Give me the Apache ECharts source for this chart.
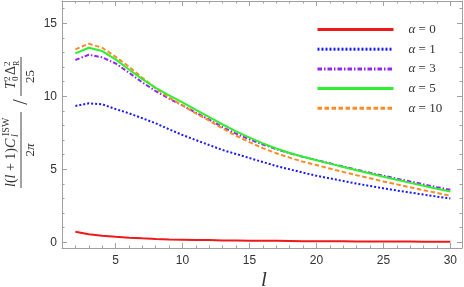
<!DOCTYPE html>
<html>
<head>
<meta charset="utf-8">
<script src="https://cdn.jsdelivr.net/npm/echarts@6/dist/echarts.min.js"></script>
<style>
html,body{margin:0;padding:0;background:#fff;}
#chart{width:464px;height:287px;}
</style>
</head>
<body>
<div id="chart"></div>
<script>
// ---- data ----
const ells = [2,3,4,5,6,7,8,9,10,11,12,13,14,15,16,17,18,19,20,21,22,23,24,25,26,27,28,29,30];
const alpha0 = [0.73,0.55,0.45,0.38,0.32,0.27,0.23,0.20,0.18,0.16,0.15,0.13,0.12,0.11,0.10,0.10,0.09,0.08,0.08,0.07,0.07,0.06,0.06,0.05,0.05,0.05,0.04,0.04,0.04];
const alpha1 = [9.34,9.52,9.45,9.13,8.84,8.50,8.15,7.74,7.35,7.00,6.66,6.32,6.05,5.77,5.50,5.23,5.00,4.77,4.56,4.38,4.20,4.02,3.86,3.70,3.55,3.41,3.27,3.13,3.00];
const alpha3 = [12.49,12.85,12.67,12.26,11.62,10.95,10.36,9.84,9.38,8.88,8.40,7.88,7.44,7.05,6.70,6.38,6.10,5.85,5.64,5.41,5.19,4.97,4.76,4.56,4.36,4.17,3.97,3.78,3.60];
const alpha5 = [12.94,13.33,13.10,12.53,11.84,11.18,10.58,10.07,9.58,9.07,8.57,8.07,7.60,7.17,6.78,6.43,6.12,5.86,5.62,5.39,5.16,4.93,4.71,4.49,4.28,4.07,3.87,3.67,3.48];
const alpha10 = [13.22,13.60,13.33,12.71,12.03,11.27,10.55,9.92,9.38,8.83,8.33,7.80,7.30,6.86,6.45,6.10,5.80,5.52,5.29,5.05,4.82,4.60,4.39,4.17,3.97,3.77,3.57,3.38,3.19];
const seriesNames = ['α = 0','α = 1','α = 3','α = 5','α = 10'];
const xMajorTicks = [5,10,15,20,25,30];
const xMinorTicks = [2,3,4,5,6,7,8,9,10,11,12,13,14,15,16,17,18,19,20,21,22,23,24,25,26,27,28,29,30];
const yMajorTicks = [0,5,10,15];
const yMinorTicks = [0,1,2,3,4,5,6,7,8,9,10,11,12,13,14,15,16];

// ---- chart ----
const chart = echarts.init(document.getElementById('chart'), null, {renderer:'canvas'});
const frameColor = '#a0a0a0';
const labelColor = '#333';
const serif = '"Liberation Serif", "DejaVu Serif", serif';
const XMIN = 1.0, XMAX = 30.87, YMIN = -0.39, YMAX = 16.53;

function xAx(pos, ticks, len, labels, showLine){
  return {
    type:'value', position:pos, min:XMIN, max:XMAX,
    axisLine:{show:showLine, onZero:false, lineStyle:{color:frameColor, width:1}},
    axisTick:{show:true, inside:true, length:len, customValues:ticks, lineStyle:{color:frameColor, width:1}},
    axisLabel:labels ? {show:true, customValues:ticks, color:labelColor, fontFamily:'"Liberation Sans", Arial, sans-serif', fontSize:12, margin:7} : {show:false},
    splitLine:{show:false}, minorTick:{show:false}
  };
}
function yAx(pos, ticks, len, labels, showLine){
  return {
    type:'value', position:pos, min:YMIN, max:YMAX,
    axisLine:{show:showLine, onZero:false, lineStyle:{color:frameColor, width:1}},
    axisTick:{show:true, inside:true, length:len, customValues:ticks, lineStyle:{color:frameColor, width:1}},
    axisLabel:labels ? {show:true, customValues:ticks, color:labelColor, fontFamily:'"Liberation Sans", Arial, sans-serif', fontSize:12, margin:5} : {show:false},
    splitLine:{show:false}, minorTick:{show:false}
  };
}

function mk(vals){ return ells.map((l,i)=>[l, vals[i]]); }

const colors = ['#f01818','#1a1aff','#9326f0','#2ef02e','#ff8a26'];
const lineTypes = ['solid',[2,2],[4.5,2,1.5,2],'solid',[4.5,2.5]];
const datas = [alpha0, alpha1, alpha3, alpha5, alpha10];

const series = datas.map((d,i)=>({
  name: seriesNames[i], type:'line', data: mk(d), xAxisIndex:0, yAxisIndex:0,
  symbol:'none', showSymbol:false, smooth:false,
  lineStyle:{color:colors[i], width:2, type:lineTypes[i]},
  itemStyle:{color:colors[i]},
  z: [5,3,4,6,5][i],
  animation:false
}));

// y-axis label built as rotated math expression
const T = (x,y,text,font,align,valign)=>({type:'text', x:x, y:y, style:{text:text, font:font, fill:labelColor, textAlign:align||'left', textVerticalAlign:valign||'bottom'}});
const f14 = '14px ' + serif, f14i = 'italic 14px ' + serif, f10 = '10px ' + serif, f10i = 'italic 10px ' + serif, f13 = '13px ' + serif;
const yLabel = {
  type:'group', x:21, y:188, rotation:Math.PI/2, silent:true,
  children:[
    {type:'line', shape:{x1:0,y1:0,x2:76,y2:0}, style:{stroke:'#444', lineWidth:1}},
    {type:'text', x:1, y:-3, style:{text:'{i|l}({i|l} + 1){i|C}', font:f14, fill:labelColor, textAlign:'left', textVerticalAlign:'bottom', rich:{i:{fontStyle:'italic', fontSize:14, fontFamily:serif}}}},
    T(51,-0.5,'l',f10i),
    T(52,-10,'ISW',f10),
    {type:'text', x:38, y:3, style:{text:'2{i|π}', font:f13, fill:labelColor, textAlign:'center', textVerticalAlign:'top', rich:{i:{fontStyle:'italic', fontSize:13, fontFamily:serif}}}},
    T(86,1,'/','20px ' + serif,'center','middle'),
    {type:'line', shape:{x1:92,y1:0,x2:131,y2:0}, style:{stroke:'#444', lineWidth:1}},
    T(99,-3,'T',f14i),
    T(107,-0.5,'0','9px ' + serif),
    T(107,-9,'2','9px ' + serif),
    T(113,-3,'Δ',f14),
    T(122,-0.5,'R','8px ' + serif),
    T(122,-9,'2','9px ' + serif),
    T(111.5,3,'25',f13,'center','top')
  ]
};
const xLabel = {type:'text', x:264, y:280, silent:true, style:{text:'l', font:'italic 21px ' + serif, fill:labelColor, textAlign:'center', textVerticalAlign:'middle'}};

chart.setOption({
  animation:false,
  backgroundColor:'#fff',
  grid:{left:62, top:1, width:400, height:247, containLabel:false},
  xAxis:[
    xAx('bottom', xMajorTicks, 5, true, true),
    xAx('bottom', xMinorTicks, 2.5, false, false),
    xAx('top', xMajorTicks, 5, false, true),
    xAx('top', xMinorTicks, 2.5, false, false)
  ],
  yAxis:[
    yAx('left', yMajorTicks, 5, true, true),
    yAx('left', yMinorTicks, 2.5, false, false),
    yAx('right', yMajorTicks, 5, false, true),
    yAx('right', yMinorTicks, 2.5, false, false)
  ],
  legend:{
    show:true, orient:'vertical', left:311, top:18,
    itemWidth:76, itemHeight:14, itemGap:6.7,
    itemStyle:{opacity:0, borderWidth:0},
    lineStyle:{opacity:1, width:3},
    data: seriesNames,
    textStyle:{color:labelColor, fontFamily:serif, fontSize:13, padding:[0,0,0,10],
      rich:{a:{fontStyle:'italic', fontFamily:serif, fontSize:13, color:labelColor}, b:{fontFamily:serif, fontSize:13, color:labelColor}}},
    formatter: (n)=> '{a|α}{b|' + n.slice(1) + '}'
  },
  graphic:[yLabel, xLabel],
  series: series
});
</script>
</body>
</html>
